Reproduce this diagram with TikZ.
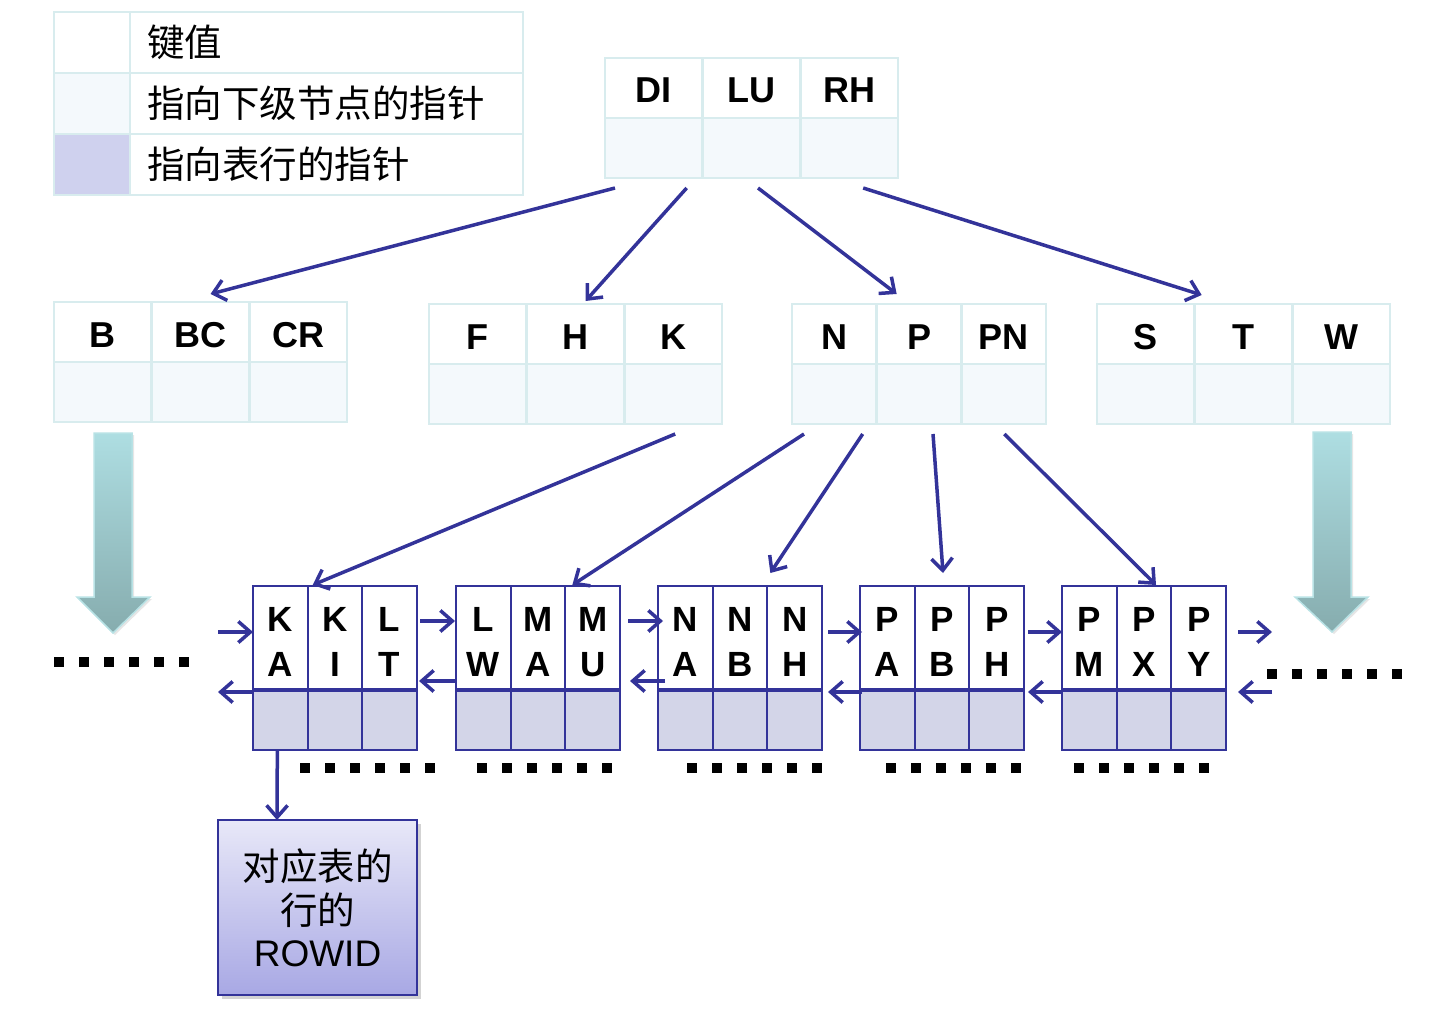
\documentclass[tikz,border=0pt]{standalone}
\usepackage{fontspec}
\setmainfont{Liberation Sans}
\newfontfamily\cjk{Noto Sans CJK SC}
\usetikzlibrary{arrows.meta,calc,shadows}

\definecolor{dblue}{HTML}{333399}
\definecolor{cyanline}{HTML}{D8ECEE}
\definecolor{palefill}{HTML}{F4F9FC}
\definecolor{lav}{HTML}{CFD1EE}
\definecolor{leafbot}{HTML}{D3D5E8}
\definecolor{bigtop}{HTML}{AEDEE2}
\definecolor{bigbot}{HTML}{86ACAE}
\definecolor{bigedge}{HTML}{B8E2E5}
\definecolor{rtop}{HTML}{E8E8F8}
\definecolor{rbot}{HTML}{A8A8E4}

\newcommand\idxnode[5]{%
  \foreach \t [count=\i from 0] in {#5} {
    \node[kcell, minimum width=#4] (#1k\i) at ({#2+\i*#4},{#3}) {\t};
    \node[pcell, minimum width=#4] (#1p\i) at ({#2+\i*#4},{#3+60}) {};
  }}
\newcommand\leafnode[3]{%
  \foreach \a/\b [count=\i from 0] in {#3} {
    \node[ltop] (#1t\i) at ({#2+\i*54.67},586) {\a\\\b};
    \node[lbot] (#1b\i) at ({#2+\i*54.67},690) {};
  }
  \draw[dblue, line width=3.5pt] (#1t0.south west) -- (#1t2.south east);
}

\begin{document}
\begin{tikzpicture}[x=1pt,y=-1pt,
  kcell/.style={draw=cyanline, line width=2.5pt, fill=white, minimum height=60, inner sep=0, outer sep=0, anchor=north west, text height=30pt, text depth=0pt, font=\fontsize{36}{40}\selectfont\bfseries},
  pcell/.style={draw=cyanline, line width=2.5pt, fill=palefill, minimum height=60, inner sep=0, outer sep=0, anchor=north west},
  ltop/.style={draw=dblue, line width=2pt, fill=white, minimum width=54.67, minimum height=104, inner sep=0, outer sep=0, anchor=north west, align=center, text height=77pt, text depth=0pt, font=\fontsize{35}{45}\selectfont\bfseries},
  lbot/.style={draw=dblue, line width=2pt, fill=leafbot, minimum width=54.67, minimum height=60, inner sep=0, outer sep=0, anchor=north west},
  lgcell/.style={draw=cyanline, line width=2.5pt, minimum height=61, inner sep=0, outer sep=0, anchor=north west},
  lgtext/.style={lgcell, fill=white, text width=359, inner xsep=17, align=left, font=\cjk\fontsize{37.5}{40}\selectfont},
  arr/.style={draw=dblue, line width=3.5pt, -{Straight Barb[length=12pt,width=21pt]}},
  dots/.style={line width=10pt, dash pattern=on 10pt off 15pt},
  bigarrow/.style={top color=bigtop, bottom color=bigbot, draw=bigedge, line width=1.5pt, drop shadow={opacity=0.2, shadow xshift=2pt, shadow yshift=-2pt}}
]
\useasboundingbox (0,0) rectangle (1455,1011);

% legend
\node[lgcell, fill=white, minimum width=76] (lg1a) at (54,12) {};
\node[lgtext] (lg1b) at (130,12) {键值};
\node[lgcell, fill=palefill, minimum width=76] (lg2a) at (54,73) {};
\node[lgtext] (lg2b) at (130,73) {指向下级节点的指针};
\node[lgcell, fill=lav, minimum width=76] (lg3a) at (54,134) {};
\node[lgtext] (lg3b) at (130,134) {指向表行的指针};

% big arrows
\shade[bigarrow] (94,433) -- (132,433) -- (132,597) -- (150,597) -- (113,633) -- (77,597) -- (94,597) -- cycle;
\shade[bigarrow] (1313,432) -- (1351,432) -- (1351,597) -- (1368,597) -- (1332,632) -- (1295,597) -- (1313,597) -- cycle;

% index nodes
\idxnode{R}{605}{58}{97.67}{DI,LU,RH}
\idxnode{B}{54}{302}{97.67}{B,BC,CR}
\idxnode{F}{429}{304}{97.67}{F,H,K}
\idxnode{N}{792}{304}{84.67}{N,P,PN}
\idxnode{S}{1097}{304}{97.67}{S,T,W}

% leaves
\leafnode{L1}{253}{K/A,K/I,L/T}
\leafnode{L2}{456}{L/W,M/A,M/U}
\leafnode{L3}{658}{N/A,N/B,N/H}
\leafnode{L4}{860}{P/A,P/B,P/H}
\leafnode{L5}{1062}{P/M,P/X,P/Y}

% ROWID box
\node[draw=dblue, line width=2pt, top color=rtop, bottom color=rbot, minimum width=199, minimum height=175, anchor=north west, inner sep=0, outer sep=0, align=center, drop shadow={opacity=0.35, shadow xshift=4pt, shadow yshift=-4pt}, font=\fontsize{37}{44}\selectfont] (rowid) at (218,820) {{\cjk\fontsize{37.5}{44}\selectfont 对应表的}\\{\cjk\fontsize{37.5}{44}\selectfont 行的}\\[-2pt]ROWID};

% tree arrows
\draw[arr] ($(Rp0.south west)+(10,10)$) -- ($(Bk1.north)+(10,-8)$);
\draw[arr] ($(Rp0.south east)+(-16,10)$) -- ($(Fk1.north)+(10,-3)$);
\draw[arr] ($(Rp1.south)+(6.5,10)$) -- ($(Nk1.north west)+(20,-10)$);
\draw[arr] ($(Rp2.south)+(14,10)$) -- ($(Sk1.north west)+(7,-9)$);

\draw[arr] ($(Fp2.south)+(2,10)$) -- ($(L1t1.north west)+(5,-1)$);
\draw[arr] ($(Np0.south west)+(12,10)$) -- ($(L2t2.north west)+(7,-1)$);
\draw[arr] ($(Np0.south east)+(-14,10)$) -- ($(L3t2.north west)+(3,-13)$);
\draw[arr] ($(Np1.south)+(14,10)$) -- ($(L4t1.north)+(1,-13)$);
\draw[arr] ($(Np2.south west)+(43,10)$) -- ($(L5t1.north)+(12,-1)$);

% leaf chain arrows
\coordinate (lin) at (218,632);
\coordinate (lout) at (218,692);
\draw[arr] (lin) -- (L1t0.north west |- lin);
\draw[arr] (L1t0.north west |- lout) -- (lout);
\draw[arr] ($(L1t2.north east)+(3,35)$) -- ($(L2t0.north west)+(-1,35)$);
\draw[arr] ($(L2t0.north west)+(0,95)$) -- ($(L1t2.north east)+(2,95)$);
\draw[arr] ($(L2t2.north east)+(8,35)$) -- ($(L3t0.north west)+(5,35)$);
\draw[arr] ($(L3t0.north west)+(7,95)$) -- ($(L2t2.north east)+(10,95)$);
\draw[arr] ($(L3t2.north east)+(6,46)$) -- ($(L4t0.north west)+(2,46)$);
\draw[arr] ($(L4t0.north west)+(2,106)$) -- ($(L3t2.north east)+(6,106)$);
\draw[arr] ($(L4t2.north east)+(4,46)$) -- ($(L5t0.north west)+(0,46)$);
\draw[arr] ($(L5t0.north west)+(0,106)$) -- ($(L4t2.north east)+(4,106)$);
\coordinate (rout) at (1272,632);
\coordinate (rin) at (1272,692);
\draw[arr] ($(L5t2.north east)+(12,46)$) -- (rout);
\draw[arr] (rin) -- ($(L5t2.north east)+(12,106)$);

% to ROWID
\draw[arr] ($(L1b0.south)+(-3,0)$) -- ($(rowid.north west)+(59,0)$);

% dots
\draw[dots] (54,662) -- (190,662);
\draw[dots] (1267,674) -- (1403,674);
\draw[dots] (300,768) -- (436,768);
\draw[dots] (477,768) -- (613,768);
\draw[dots] (687,768) -- (823,768);
\draw[dots] (886,768) -- (1022,768);
\draw[dots] (1074,768) -- (1210,768);
\end{tikzpicture}
\end{document}
